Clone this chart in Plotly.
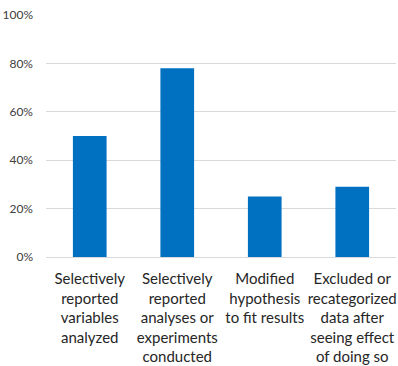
import plotly.graph_objects as go

categories = [
    "Selectively<br>reported<br>variables<br>analyzed",
    "Selectively<br>reported<br>analyses or<br>experiments<br>conducted",
    "Modified<br>hypothesis<br>to fit results",
    "Excluded or<br>recategorized<br>data after<br>seeing effect<br>of doing so",
]
shares = [0.50, 0.78, 0.25, 0.29]
y_ticks = [0, 0.2, 0.4, 0.6, 0.8, 1.0]
y_tick_labels = ["0%", "20%", "40%", "60%", "80%", "100%"]

fig = go.Figure(
    go.Bar(
        x=categories,
        y=shares,
        marker=dict(color="#0070C0", line=dict(width=0)),
        hoverinfo="skip",
    )
)

fig.update_layout(
    width=398,
    height=366,
    margin=dict(l=46, r=2, t=15, b=109),
    paper_bgcolor="white",
    plot_bgcolor="white",
    bargap=0.615,
    showlegend=False,
    font=dict(family="Lato, 'Liberation Sans', sans-serif", color="#404040"),
)

fig.update_xaxes(
    tickfont=dict(size=15, color="#262626"),
    showgrid=False,
    showline=False,
    ticks="",
    tickangle=0,
    ticklabelstandoff=11,
)

fig.update_yaxes(
    range=[0, 1.0],
    tickvals=y_ticks,
    ticktext=y_tick_labels,
    tickfont=dict(size=12, color="#404040"),
    showgrid=True,
    gridcolor="#d9d9d9",
    gridwidth=1.3,
    zeroline=True,
    zerolinecolor="#d9d9d9",
    zerolinewidth=1.3,
    showline=False,
    ticks="",
    ticklabelstandoff=12,
)

fig.write_html("out.html")
